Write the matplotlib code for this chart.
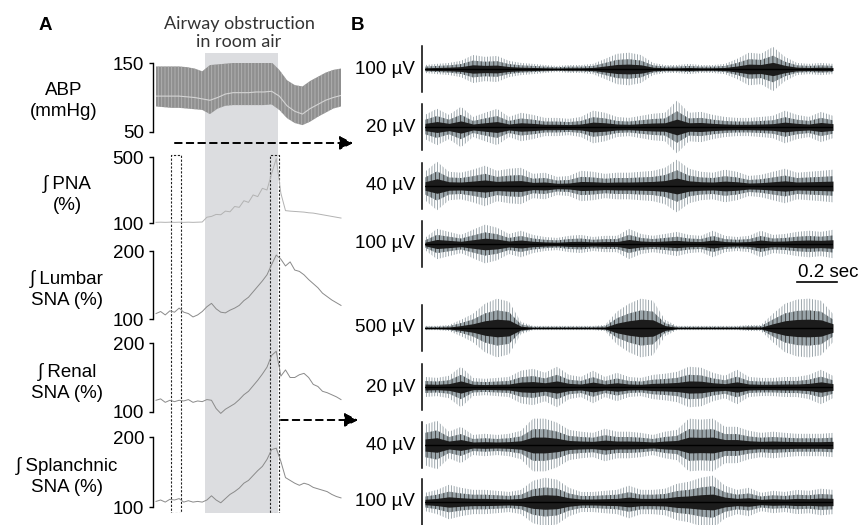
import numpy as np
import matplotlib as mpl
mpl.use("Agg")
import matplotlib.pyplot as plt
from matplotlib.patches import Rectangle

mpl.rcParams.update({
    "font.family": ["Liberation Sans", "DejaVu Sans"],
    "font.size": 13.5,
    "hatch.linewidth": 0.6,
})

# ---- panel A: integrated traces, 3 s bins over 120 s ----
A_TIME = np.arange(0, 121, 3)
OBSTRUCTION = (32, 79)
BOX_BASE = (9.7, 16.2)
BOX_OBS = (74, 79.8)

ABP_TIME = np.arange(0, 121, 5)
ABP_SYS = [145, 145, 145, 145, 144, 142, 138, 147, 148, 149, 150, 150, 150,
           150, 151, 151, 140, 125, 118, 116, 124, 130, 136, 140, 142]
ABP_DIA = [87, 86, 85, 85, 84, 83, 82, 76, 84, 88, 89, 89, 89,
           89, 89, 90, 82, 70, 63, 60, 65, 72, 78, 84, 87]
ABP_MEAN = [102, 102, 102, 102, 101, 100, 98, 96, 100, 105, 107, 107, 107,
            108, 108, 109, 102, 88, 80, 76, 84, 90, 96, 100, 103]

PNA = [104, 105, 104, 105, 104, 105, 104, 105, 104, 105, 106, 135, 140, 152,
       150, 172, 168, 200, 195, 235, 225, 270, 260, 310, 300, 400, 490, 280,
       175, 172, 170, 168, 166, 162, 160, 155, 150, 145, 140, 135, 130]
LUMBAR = [108, 111, 106, 112, 110, 116, 110, 108, 103, 106, 111, 118, 123, 115,
          110, 109, 113, 116, 120, 127, 132, 140, 148, 156, 165, 180, 194, 188,
          178, 184, 172, 170, 165, 158, 152, 146, 138, 133, 128, 124, 120]
RENAL = [117, 119, 114, 117, 115, 117, 116, 118, 114, 116, 115, 118, 117, 105,
         98, 104, 108, 112, 118, 125, 130, 138, 146, 155, 165, 182, 188, 152,
         161, 150, 150, 154, 156, 150, 140, 137, 130, 128, 125, 122, 118]
SPLANCHNIC = [108, 110, 107, 111, 110, 112, 107, 109, 107, 108, 107, 110, 116,
              110, 106, 112, 118, 122, 127, 134, 138, 145, 152, 158, 168, 182,
              184, 165, 142, 138, 134, 131, 134, 132, 128, 126, 124, 122, 118,
              115, 113]

A_LABELS = ["∫ PNA\n(%)", "∫ Lumbar\nSNA (%)", "∫ Renal\nSNA (%)",
            "∫ Splanchnic\nSNA (%)"]
A_LIMITS = [(100, 500), (100, 200), (100, 200), (100, 200)]

# ---- panel B: raw nerve activity envelopes (scale bar half-height = 1) ----
B_TIME = np.linspace(0, 2.04, 35)
B_SCALES = ["100 µV", "20 µV", "40 µV", "100 µV",
            "500 µV", "20 µV", "40 µV", "100 µV"]
B_BASE_PNA = [0.17, 0.22, 0.26, 0.35, 0.6, 0.52, 0.56, 0.35, 0.26, 0.22, 0.17,
              0.13, 0.17, 0.17, 0.22, 0.43, 0.65, 0.7, 0.6, 0.26, 0.17, 0.17,
              0.22, 0.17, 0.17, 0.22, 0.43, 0.7, 0.65, 0.95, 0.52, 0.26, 0.22,
              0.26, 0.22]
B_BASE_LSNA = [0.52, 0.78, 0.52, 0.87, 0.43, 0.61, 0.78, 0.43, 0.61, 0.52, 0.39,
               0.39, 0.35, 0.43, 0.7, 0.61, 0.43, 0.39, 0.48, 0.57, 0.61, 1.13,
               0.61, 0.65, 0.52, 0.43, 0.39, 0.39, 0.43, 0.48, 0.7, 0.52, 0.43,
               0.65, 0.48]
B_BASE_RSNA = [0.61, 1.04, 0.61, 0.57, 0.7, 0.87, 0.65, 0.74, 0.78, 0.52, 0.57,
               0.39, 0.43, 0.65, 0.61, 0.52, 0.57, 0.57, 0.61, 0.65, 0.78, 1.13,
               0.74, 0.61, 0.57, 0.7, 0.61, 0.43, 0.48, 0.61, 0.74, 0.57, 0.61,
               0.65, 0.7]
B_BASE_SSNA = [0.26, 0.65, 0.52, 0.39, 0.61, 0.83, 0.7, 0.43, 0.57, 0.39, 0.3,
               0.26, 0.35, 0.39, 0.3, 0.35, 0.35, 0.65, 0.43, 0.35, 0.43, 0.52,
               0.39, 0.35, 0.57, 0.35, 0.3, 0.35, 0.57, 0.39, 0.43, 0.52, 0.57,
               0.52, 0.61]
B_OBS_PNA = [0.09, 0.09, 0.13, 0.35, 0.61, 1.04, 1.26, 1.13, 0.26, 0.09, 0.09,
             0.09, 0.09, 0.09, 0.09, 0.13, 0.7, 1.04, 1.26, 1.17, 0.35, 0.09,
             0.09, 0.09, 0.09, 0.09, 0.09, 0.13, 0.13, 0.61, 1.04, 1.22, 1.26,
             1.17, 0.61]
B_OBS_LSNA = [0.43, 0.39, 0.48, 0.87, 0.39, 0.35, 0.39, 0.43, 0.7, 0.78, 0.61,
              0.87, 0.52, 0.43, 0.7, 0.43, 0.61, 0.43, 0.39, 0.52, 0.57, 0.65,
              0.87, 0.83, 0.61, 0.48, 0.74, 0.43, 0.39, 0.39, 0.43, 0.43, 0.52,
              0.74, 0.48]
B_OBS_RSNA = [0.87, 1.04, 0.57, 0.78, 0.43, 0.48, 0.43, 0.48, 0.61, 1.13, 1.13,
              0.96, 0.65, 0.57, 0.52, 0.7, 0.57, 0.57, 0.52, 0.43, 0.57, 0.65,
              1.13, 1.09, 1.13, 0.78, 0.78, 0.61, 0.52, 0.57, 0.52, 0.48, 0.48,
              0.48, 0.52]
B_OBS_SSNA = [0.39, 0.52, 0.74, 0.61, 0.52, 0.52, 0.48, 0.43, 0.52, 0.91, 1.04,
              0.96, 0.61, 0.43, 0.43, 0.48, 0.52, 0.7, 0.52, 0.52, 0.57, 0.78,
              0.87, 1.04, 1.13, 0.7, 0.52, 0.61, 0.39, 0.48, 0.43, 0.52, 0.48,
              0.57, 0.52]

W, H = 864, 525


def box(x0, y0, x1, y1):
    # pixel box (top-left origin) -> figure fraction rect
    return [x0 / W, 1 - y1 / H, (x1 - x0) / W, (y1 - y0) / H]


def fpt(x, y):
    return (x / W, 1 - y / H)


figure = plt.figure(figsize=(W / 100, H / 100), dpi=100)

# background axes for shading and dashed windows
bg = figure.add_axes(box(156, 53, 341, 513))
bg.set_xlim(0, 120)
bg.set_ylim(0, 1)
bg.axis("off")
bg.axvspan(*OBSTRUCTION, color="#dcdde0", lw=0, zorder=0)
for lo, hi in (BOX_BASE, BOX_OBS):
    bg.add_patch(Rectangle((lo, 0), hi - lo, 0.778, fill=False,
                           ec="#222222", lw=0.8, ls=(0, (2, 1.5))))


def bracket_axes(rect, limits):
    ax = figure.add_axes(rect)
    ax.set_facecolor("none")
    ax.set_xlim(0, 120)
    ax.set_ylim(*limits)
    for side in ("top", "right", "bottom"):
        ax.spines[side].set_visible(False)
    ax.spines["left"].set_position(("outward", 2.5))
    ax.spines["left"].set_linewidth(1.0)
    ax.set_xticks([])
    ax.set_yticks(limits)
    ax.tick_params(axis="y", direction="out", length=3, width=1.0, pad=3,
                   labelsize=13.5)
    return ax


abp_axes = bracket_axes(box(156, 63, 341, 132), (50, 150))
abp_axes.fill_between(ABP_TIME, ABP_DIA, ABP_SYS, facecolor="#8f8f8f",
                      edgecolor="#b4b4b4", hatch="|||||", lw=0)
abp_axes.plot(ABP_TIME, ABP_MEAN, color="#d4d4d4", lw=0.8)
abp_axes.text(-0.5, 0.45, "ABP\n(mmHg)", transform=abp_axes.transAxes,
              ha="center", va="center", linespacing=1.3)

rows = [(157, 223), (251, 319), (343, 412), (437, 507)]
series = [PNA, LUMBAR, RENAL, SPLANCHNIC]
colours = ["#b2b2b2", "#8a8a8a", "#8a8a8a", "#8a8a8a"]
for (top, bottom), values, label, limits, colour in zip(
        rows, series, A_LABELS, A_LIMITS, colours):
    ax = bracket_axes(box(156, top, 341, bottom), limits)
    ax.plot(A_TIME, values, color=colour, lw=0.7, clip_on=False)
    ax.text(-0.48, 0.43, label, transform=ax.transAxes,
            ha="center", va="center", linespacing=1.3)

figure.text(*fpt(45, 25), "A", weight="bold", ha="center", va="center",
            fontsize=13.5)
figure.text(*fpt(357, 25), "B", weight="bold", ha="center", va="center",
            fontsize=13.5)
figure.text(*fpt(239, 33), "Airway obstruction\nin room air",
            family=["Lato", "DejaVu Sans"], fontsize=13, color="#333333",
            ha="center", va="center", linespacing=1.2)

# dashed arrows from the windows to panel B
arrow_style = dict(arrowstyle="-|>,head_length=0.6,head_width=0.3",
                   color="black", lw=1.2, ls=(0, (4, 3)),
                   shrinkA=0, shrinkB=0)
figure.add_artist(plt.annotate("", xy=fpt(353, 143), xytext=fpt(175, 143),
                               xycoords="figure fraction",
                               textcoords="figure fraction",
                               arrowprops=arrow_style))
figure.add_artist(plt.annotate("", xy=fpt(358, 420), xytext=fpt(281, 420),
                               xycoords="figure fraction",
                               textcoords="figure fraction",
                               arrowprops=arrow_style))

# ---- panel B ----
centers = [69, 127, 186, 244, 328, 387, 445, 502]
envelopes = [B_BASE_PNA, B_BASE_LSNA, B_BASE_RSNA, B_BASE_SSNA,
             B_OBS_PNA, B_OBS_LSNA, B_OBS_RSNA, B_OBS_SSNA]
half = 58.3 / 2
for centre, env, scale in zip(centers, envelopes, B_SCALES):
    ax = figure.add_axes(box(425, centre - half, 833, centre + half))
    ax.set_facecolor("none")
    ax.set_xlim(0, 2.04)
    ax.set_ylim(-1.25, 1.25)
    env = np.asarray(env)
    # outer spikes: light grey-blue strokes
    ax.fill_between(B_TIME, -env, env, facecolor="none",
                    edgecolor="#8d999f", hatch="||||||", lw=0, clip_on=False)
    # denser middle band
    ax.fill_between(B_TIME, -0.6 * env, 0.6 * env, facecolor="#9aa5aa",
                    edgecolor="#3a3a3a", hatch="||||", lw=0, clip_on=False)
    # dark core
    ax.fill_between(B_TIME, -0.3 * env, 0.3 * env, color="#1c1c1c", lw=0,
                    clip_on=False)
    ax.plot(B_TIME, np.zeros_like(B_TIME), color="black", lw=1.0)
    for side in ("top", "right", "bottom"):
        ax.spines[side].set_visible(False)
    ax.spines["left"].set_position(("outward", 2))
    ax.spines["left"].set_bounds(-1, 1)
    ax.spines["left"].set_linewidth(1.1)
    ax.set_xticks([])
    ax.set_yticks([])
    ax.text(-0.024, 0.5, scale, transform=ax.transAxes, ha="right",
            va="center")
    if centre == 244:
        ax.plot([1.86, 2.06], [-1.65, -1.65], color="black", lw=1.2,
                clip_on=False)
        ax.text(1.865, -1.6, "0.2 sec", ha="left", va="bottom",
                fontsize=13.5, clip_on=False)

plt.savefig("out.png", dpi=100)
